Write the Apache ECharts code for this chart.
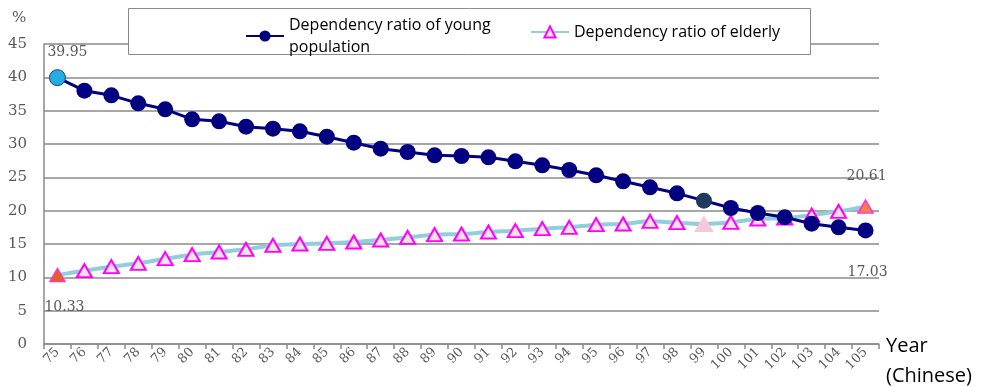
<!DOCTYPE html>
<html><head><meta charset="utf-8">
<script src="https://cdn.jsdelivr.net/npm/echarts@6/dist/echarts.min.js"></script>
<style>html,body{margin:0;padding:0;background:#fff}#c{width:981px;height:387px}</style>
</head><body><div id="c"></div>
<script>
var years = ['75','76','77','78','79','80','81','82','83','84','85','86','87','88','89','90','91','92','93','94','95','96','97','98','99','100','101','102','103','104','105'];
var youngRatio = [39.95,38.0,37.3,36.1,35.2,33.7,33.4,32.6,32.3,31.9,31.1,30.2,29.3,28.8,28.3,28.2,28.0,27.4,26.8,26.1,25.3,24.4,23.5,22.6,21.5,20.4,19.65,19.0,18.05,17.5,17.03];
var elderlyRatio = [10.33,11.0,11.6,12.1,12.8,13.4,13.8,14.2,14.8,15.0,15.1,15.3,15.6,16.0,16.4,16.5,16.8,17.0,17.3,17.5,17.9,18.0,18.4,18.2,18.0,18.25,18.75,18.9,19.35,19.9,20.61];
var yTicks = [0,5,10,15,20,25,30,35,40,45];
var youngName = 'Dependency ratio of young population';
var elderlyName = 'Dependency ratio of elderly';

var labelFont = {fontFamily:'DejaVu Serif', fontSize:14, color:'#595959'};
var youngData = youngRatio.map(function(v,i){
  var d = {value:v};
  if(i===0){ d.itemStyle={color:'#22ADE6',borderColor:'#1F3F73',borderWidth:1};
    d.label=Object.assign({show:true,position:'inside',offset:[10,-25],formatter:'39.95'},labelFont); }
  if(i===24){ d.itemStyle={color:'#1F3A5C'}; }
  return d;
});
var elderlyData = elderlyRatio.map(function(v,i){
  var d = {value:v};
  if(i===0){ d.itemStyle={color:'#E0660C',borderColor:'#FF33CC',borderWidth:1.5};
    d.label=Object.assign({show:true,position:'inside',offset:[7,32],formatter:'10.33'},labelFont); }
  if(i===24){ d.symbolSize=[18,15]; d.itemStyle={color:'#F8C8D8',borderColor:'#F8C8D8',borderWidth:1}; }
  if(i===30){ d.itemStyle={color:'#F48050',borderColor:'#FF33CC',borderWidth:1.5};
    d.label=Object.assign({show:true,position:'inside',offset:[1,-30],formatter:'20.61'},labelFont); }
  return d;
});
// 17.03 label belongs to last young point
youngData[30].label = Object.assign({show:true,position:'inside',offset:[2,42],formatter:'17.03'},labelFont);

var chart = echarts.init(document.getElementById('c'), null, {renderer:'canvas'});
chart.setOption({
  animation:false,
  backgroundColor:'#fff',
  grid:{left:44,right:102,top:44,bottom:43},
  legend:[
    {data:[youngName], left:245, top:14, itemWidth:38, itemHeight:14, padding:0,
     formatter:function(){return 'Dependency ratio of young\npopulation';},
     textStyle:{fontFamily:'Open Sans',fontSize:16,color:'#000',lineHeight:22}, z:20},
    {data:[elderlyName], left:530, top:21, itemWidth:38, itemHeight:14, padding:0,
     textStyle:{fontFamily:'Open Sans',fontSize:16,color:'#000',lineHeight:22}, z:20}
  ],
  graphic:[
    {type:'rect', shape:{x:128.5,y:8.5,width:682,height:46}, style:{fill:'#fff',stroke:'#8a8a8a',lineWidth:1}, z:10},
    {type:'text', left:12, top:11, style:{text:'%', fontFamily:'DejaVu Serif', fontSize:15, fill:'#595959'}, z:10},
    {type:'text', left:886, top:331, style:{text:'Year\n(Chinese)', fontFamily:'Open Sans', fontSize:20, lineHeight:30, fill:'#000'}, z:10}
  ],
  xAxis:{
    type:'category', data:years, boundaryGap:true,
    axisLine:{lineStyle:{color:'#8a8a8a',width:1.5}},
    axisTick:{show:true,alignWithLabel:false,length:5,lineStyle:{color:'#8a8a8a',width:1.5}},
    axisLabel:{rotate:45,margin:6,interval:0,fontFamily:'DejaVu Serif',fontSize:13,color:'#595959'}
  },
  yAxis:{
    type:'value', min:0, max:45, interval:5,
    axisLine:{show:true,lineStyle:{color:'#8a8a8a',width:1.5}},
    axisTick:{show:false},
    splitLine:{lineStyle:{color:'#8a8a8a',width:1.5}},
    axisLabel:{margin:17,fontFamily:'DejaVu Serif',fontSize:15,color:'#595959',
      formatter:function(v){return yTicks.indexOf(v)>=0?String(v):'';}}
  },
  series:[
    {name:elderlyName, type:'line', data:elderlyData, smooth:0.3, z:3,
     symbol:'triangle', symbolSize:[15,13],
     lineStyle:{color:'#92CDDC',width:4},
     itemStyle:{color:'#FBE1E6',borderColor:'#FF00FF',borderWidth:2}},
    {name:youngName, type:'line', data:youngData, z:4,
     symbol:'circle', symbolSize:16,
     lineStyle:{color:'#000080',width:3},
     itemStyle:{color:'#000080',borderWidth:0}}
  ]
});
</script></body></html>
